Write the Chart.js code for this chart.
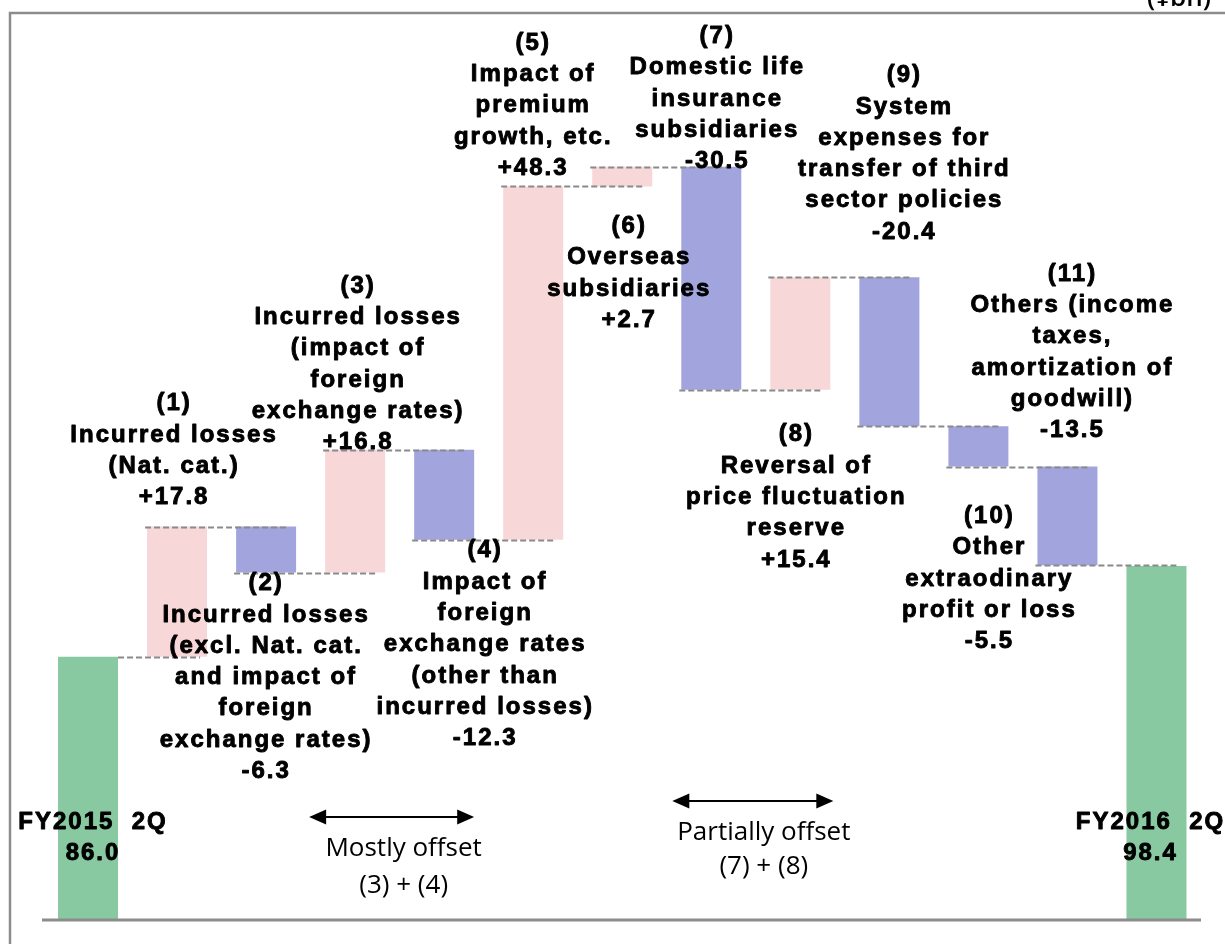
<!DOCTYPE html>
<html><head><meta charset="utf-8">
<script src="https://cdn.jsdelivr.net/npm/chart.js@4.4.1/dist/chart.umd.min.js"></script>
<style>html,body{margin:0;padding:0;background:#fff;overflow:hidden}#wrap{width:1225px;height:944px;position:relative}</style>
</head><body><div id="wrap"><canvas id="c" width="1225" height="944"></canvas></div>
<script>
// ---- data ----
const categories = ['FY2015 2Q','(1)','(2)','(3)','(4)','(5)','(6)','(7)','(8)','(9)','(10)','(11)','FY2016 2Q'];
const startValue = 86.0;
const endValue = 98.4;
const changes = [17.8, -6.3, 16.8, -12.3, 48.3, 2.7, -30.5, 15.4, -20.4, -5.5, -13.5];
const axisMin = 50;
const axisMax = 170;
const labelTexts = [
  ['FY2015  2Q'],
  ['(1)','Incurred losses','(Nat. cat.)'],
  ['(2)','Incurred losses','(excl. Nat. cat.','and impact of','foreign','exchange rates)'],
  ['(3)','Incurred losses','(impact of','foreign','exchange rates)'],
  ['(4)','Impact of','foreign','exchange rates','(other than','incurred losses)'],
  ['(5)','Impact of','premium','growth, etc.'],
  ['(6)','Overseas','subsidiaries'],
  ['(7)','Domestic life','insurance','subsidiaries'],
  ['(8)','Reversal of','price fluctuation','reserve'],
  ['(9)','System','expenses for','transfer of third','sector policies'],
  ['(10)','Other','extraodinary','profit or loss'],
  ['(11)','Others (income','taxes,','amortization of','goodwill)'],
  ['FY2016  2Q']
];
const offsetNotes = [['Mostly offset','(3) + (4)'], ['Partially offset','(7) + (8)']];
const offsetPairs = [[3,4],[7,8]];
const unitLabel = '(¥bn)';

// ---- derived ----
const floating = [];
const levels = [];
let run = startValue;
floating.push([axisMin, startValue]);
levels.push(startValue);
changes.forEach(c => { floating.push([run, run + c]); run += c; levels.push(run); });
floating.push([axisMin, endValue]);
const valueTexts = [startValue.toFixed(1)]
  .concat(changes.map(c => (c > 0 ? '+' : '') + c.toFixed(1)))
  .concat([endValue.toFixed(1)]);

// ---- styles / layout ----
const COLOR_UP = '#F8D7D9', COLOR_DOWN = '#A2A5DD', COLOR_TOTAL = '#89C9A2';
const colors = floating.map((d, i) => (i === 0 || i === floating.length - 1) ? COLOR_TOTAL : (d[1] >= d[0] ? COLOR_UP : COLOR_DOWN));
const LINE_H = 31.3;
const labelLayout = [
  {dx: 4, anchor: 'axis', dy: -98},
  {dx: -4, anchor: 'top', dy: -29},
  {dx: -1, anchor: 'bottom', dy: 11},
  {dx: 2, anchor: 'top', dy: -7},
  {dx: 40, anchor: 'bottom', dy: 11},
  {dx: -1, anchor: 'top', dy: -18},
  {dx: 6, anchor: 'bottom', dy: 40},
  {dx: 5, anchor: 'top', dy: -5},
  {dx: -5, anchor: 'bottom', dy: 45},
  {dx: 14, anchor: 'top', dy: -45},
  {dx: 10, anchor: 'bottom', dy: 50},
  {dx: 4, anchor: 'top', dy: -36},
  {dx: -7, anchor: 'axis', dy: -98}
];
const noteLayout = [
  {dx1: -46, dx2: 30, arrowDy: -103, textDx: 12, textDy: [-71, -34]},
  {dx1: -39, dx2: 33, arrowDy: -119, textDx: 11, textDy: [-87, -53]}
];

const decor = {
  id: 'decor',
  beforeDraw(chart) {
    const c = chart.ctx;
    c.save();
    c.fillStyle = '#fff';
    c.fillRect(0, 0, chart.width, chart.height);
    c.strokeStyle = '#8c8c8c';
    c.lineWidth = 2.5;
    c.beginPath();
    c.moveTo(10, 944); c.lineTo(10, 13); c.lineTo(1225, 13);
    c.stroke();
    c.fillStyle = '#000';
    c.font = '600 26px "Open Sans"';
    c.textAlign = 'right';
    c.textBaseline = 'alphabetic';
    c.fillText(unitLabel, 1211, 6);
    c.restore();
  },
  afterDatasetsDraw(chart) {
    const c = chart.ctx;
    const meta = chart.getDatasetMeta(0);
    const y = chart.scales.y, x = chart.scales.x;
    const area = chart.chartArea;
    c.save();
    // connectors
    c.strokeStyle = '#8a8a8a';
    c.lineWidth = 2;
    c.setLineDash([6, 3]);
    for (let i = 0; i < levels.length; i++) {
      const a = meta.data[i], b = meta.data[i + 1];
      const py = Math.round(y.getPixelForValue(levels[i])) + 0.5;
      const x1 = i === 0 ? a.x + a.width / 2 : a.x - a.width / 2 - 2;
      const x2 = b.x + b.width / 2 - 7;
      c.beginPath(); c.moveTo(x1, py); c.lineTo(x2, py); c.stroke();
    }
    c.setLineDash([]);
    // axis line
    c.strokeStyle = '#8c8c8c';
    c.lineWidth = 3;
    c.beginPath(); c.moveTo(42, area.bottom); c.lineTo(1201, area.bottom); c.stroke();
    // labels
    c.fillStyle = '#000';
    c.strokeStyle = '#000';
    c.lineWidth = 0.9;
    c.lineJoin = 'round';
    c.font = 'bold 24px "Liberation Sans", Arial, sans-serif';
    try { c.letterSpacing = '2px'; } catch (e) {}
    c.textAlign = 'center';
    c.textBaseline = 'middle';
    meta.data.forEach((bar, i) => {
      const lines = labelTexts[i].concat([valueTexts[i]]);
      const L = labelLayout[i];
      const top = Math.min(bar.y, bar.base), bottom = Math.max(bar.y, bar.base);
      let y0;
      if (L.anchor === 'axis') y0 = area.bottom + L.dy;
      else if (L.anchor === 'top') y0 = top + L.dy - (lines.length - 1) * LINE_H;
      else y0 = bottom + L.dy;
      const cx = bar.x + L.dx + 1;
      lines.forEach((t, k) => { c.fillText(t, cx, y0 + k * LINE_H); c.strokeText(t, cx, y0 + k * LINE_H); });
    });
    try { c.letterSpacing = '0px'; } catch (e) {}
    // offset notes with double arrows
    offsetPairs.forEach((p, n) => {
      const N = noteLayout[n];
      const xa = x.getPixelForValue(p[0]) + N.dx1;
      const xb = x.getPixelForValue(p[1]) + N.dx2;
      const ay = area.bottom + N.arrowDy;
      const hl = 17, hw = 7.5;
      c.strokeStyle = '#000'; c.fillStyle = '#000'; c.lineWidth = 2;
      c.beginPath(); c.moveTo(xa + hl - 2, ay); c.lineTo(xb - hl + 2, ay); c.stroke();
      c.beginPath(); c.moveTo(xa, ay); c.lineTo(xa + hl, ay - hw); c.lineTo(xa + hl, ay + hw); c.closePath(); c.fill();
      c.beginPath(); c.moveTo(xb, ay); c.lineTo(xb - hl, ay - hw); c.lineTo(xb - hl, ay + hw); c.closePath(); c.fill();
      c.font = '26px "Open Sans", sans-serif';
      c.textAlign = 'center'; c.textBaseline = 'middle';
      const tx = (xa + xb) / 2 + N.textDx;
      offsetNotes[n].forEach((t, k) => c.fillText(t, tx, area.bottom + N.textDy[k]));
    });
    c.restore();
  }
};

new Chart(document.getElementById('c').getContext('2d'), {
  type: 'bar',
  data: {
    labels: categories,
    datasets: [{
      data: floating,
      backgroundColor: colors,
      borderWidth: 0,
      barPercentage: 0.674,
      categoryPercentage: 1
    }]
  },
  options: {
    responsive: false,
    animation: false,
    devicePixelRatio: 1,
    layout: {padding: {left: 43.5, right: 24, top: 42.4, bottom: 24}},
    plugins: {legend: {display: false}, tooltip: {enabled: false}, title: {display: false}},
    scales: {
      x: {display: false, offset: true, grid: {display: false}},
      y: {display: false, min: axisMin, max: axisMax, grid: {display: false}}
    }
  },
  plugins: [decor]
});
</script>
</body></html>
